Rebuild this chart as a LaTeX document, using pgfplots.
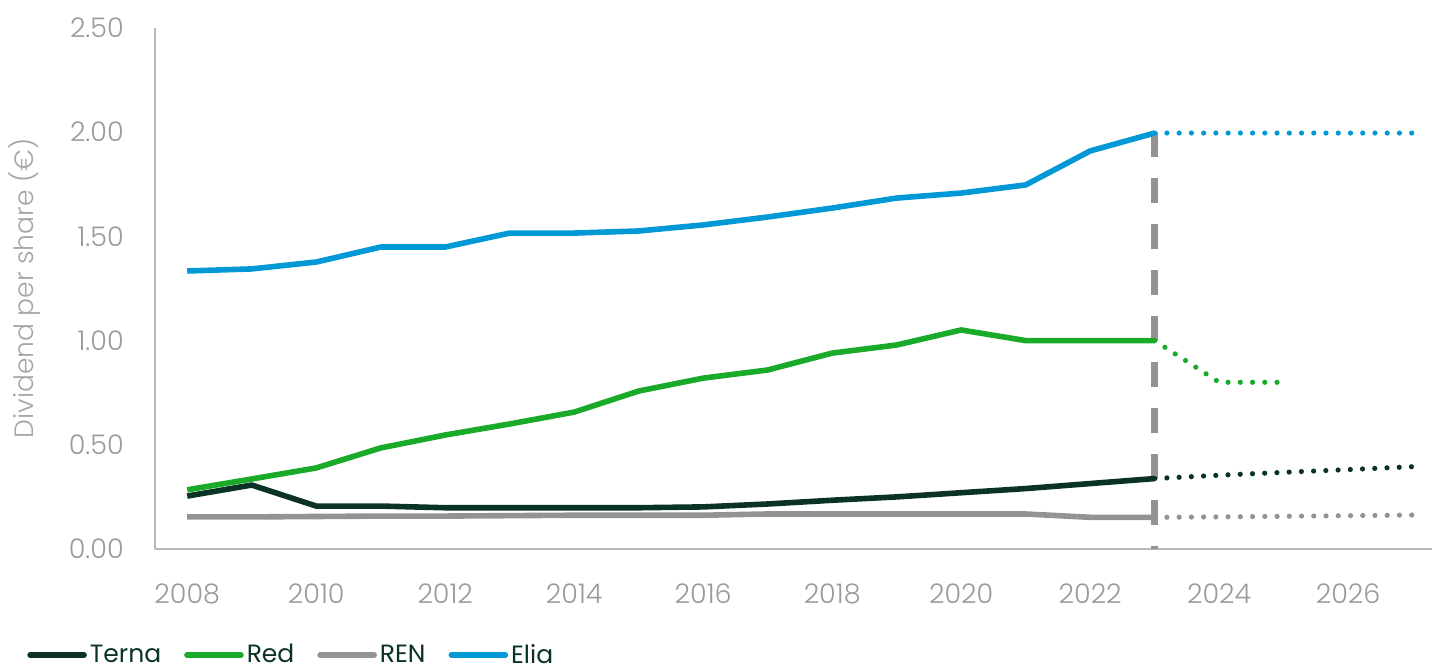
\documentclass[border=0pt]{standalone}
\usepackage{pgfplots}
\pgfplotsset{compat=1.18}
\usepackage{fontspec}
\setmainfont{Poppins}[UprightFont={* Light}]
\newfontfamily\legfont{Poppins}
\usetikzlibrary{calc}

\definecolor{terna}{HTML}{0A3326}
\definecolor{red}{HTML}{1AAA2A}
\definecolor{ren}{HTML}{939393}
\definecolor{elia}{HTML}{0099D6}
\definecolor{ticktxt}{HTML}{9A9A9A}

\begin{document}
\begin{tikzpicture}
\begin{axis}[
  name=ax,
  scale only axis,
  width=638.5pt,height=260.5pt,
  xmin=2007.5,xmax=2027.3,ymin=0,ymax=2.5,
  axis lines=left,
  axis line style={draw=black!28,line width=0.6pt,-},
  tick style={draw=none},
  xtick={2008,2010,...,2026},
  ytick={0,0.5,1,1.5,2,2.5},
  /pgf/number format/assume math mode=true,
  xticklabel style={/pgf/number format/1000 sep={},font=\fontsize{13.5}{15}\selectfont,text=ticktxt,yshift=-11.5pt},
  yticklabel style={/pgf/number format/.cd,fixed,fixed zerofill,precision=2,/tikz/.cd,font=\fontsize{13.5}{15}\selectfont,text=ticktxt,xshift=-10pt},
  ylabel={Dividend per share (€)},
  ylabel style={at={(axis description cs:-0.1018,0.5)},anchor=center,font=\fontsize{13.3}{15}\selectfont,text=black!35},
  clip=false,
  legend columns=4,
  legend style={at={(axis description cs:-0.1050,-0.2035)},anchor=west,draw=none,fill=none,
    font=\legfont\fontsize{12.5}{15}\selectfont,text=terna,
    nodes={inner sep=1.5pt},
    /tikz/every even column/.append style={column sep=10pt}},
  legend image code/.code={\draw[#1,line width=2.8pt,line cap=round] (0pt,0pt) -- (27pt,0pt);},
]
% vertical dashed marker at 2023
\addplot[ren,line width=3.5pt,dash pattern=on 12.5pt off 10.5pt,forget plot] coordinates {(2023,2.0) (2023,0)};

\addplot[terna,line width=2.8pt,line join=round] coordinates {
  (2008,0.254) (2009,0.307) (2010,0.206) (2011,0.206) (2012,0.198) (2013,0.198)
  (2014,0.198) (2015,0.198) (2016,0.202) (2017,0.216) (2018,0.234) (2019,0.250)
  (2020,0.270) (2021,0.290) (2022,0.314) (2023,0.338)};
\addlegendentry{Terna}
\addplot[red,line width=2.8pt,line join=round] coordinates {
  (2008,0.284) (2009,0.336) (2010,0.389) (2011,0.485) (2012,0.547) (2013,0.600)
  (2014,0.657) (2015,0.758) (2016,0.820) (2017,0.859) (2018,0.940) (2019,0.979)
  (2020,1.051) (2021,1.000) (2022,1.000) (2023,1.000)};
\addlegendentry{Red}
\addplot[ren,line width=2.8pt,line join=round] coordinates {
  (2008,0.154) (2009,0.154) (2010,0.156) (2011,0.158) (2012,0.158) (2013,0.160)
  (2014,0.162) (2015,0.162) (2016,0.162) (2017,0.168) (2018,0.168) (2019,0.168)
  (2020,0.168) (2021,0.168) (2022,0.152) (2023,0.152)};
\addlegendentry{REN}
\addplot[elia,line width=2.8pt,line join=round] coordinates {
  (2008,1.334) (2009,1.344) (2010,1.377) (2011,1.449) (2012,1.449) (2013,1.516)
  (2014,1.516) (2015,1.526) (2016,1.555) (2017,1.593) (2018,1.636) (2019,1.684)
  (2020,1.708) (2021,1.747) (2022,1.910) (2023,1.996)};
\addlegendentry{Elia}

% projections
\addplot[terna,line width=2.6pt,line cap=round,dash pattern=on 0pt off 6.12pt,forget plot] coordinates {
  (2023,0.338) (2024,0.354) (2025,0.368) (2026,0.381) (2027,0.395)};
\addplot[red,line width=2.6pt,line cap=round,dash pattern=on 0pt off 6.12pt,forget plot] coordinates {
  (2023,1.000) (2024,0.800) (2025,0.800)};
\addplot[ren,line width=2.6pt,line cap=round,dash pattern=on 0pt off 6.12pt,forget plot] coordinates {
  (2023,0.152) (2024,0.154) (2025,0.157) (2026,0.160) (2027,0.163)};
\addplot[elia,line width=2.6pt,line cap=round,dash pattern=on 0pt off 6.12pt,forget plot] coordinates {
  (2023,1.996) (2024,1.996) (2025,1.996) (2026,1.996) (2027,1.996)};
\end{axis}
\pgfresetboundingbox
\path[use as bounding box] ($(ax.south west)+(-77.5pt,-58pt)$) rectangle ($(ax.north east)+(0pt,14pt)$);
\end{tikzpicture}
\end{document}
